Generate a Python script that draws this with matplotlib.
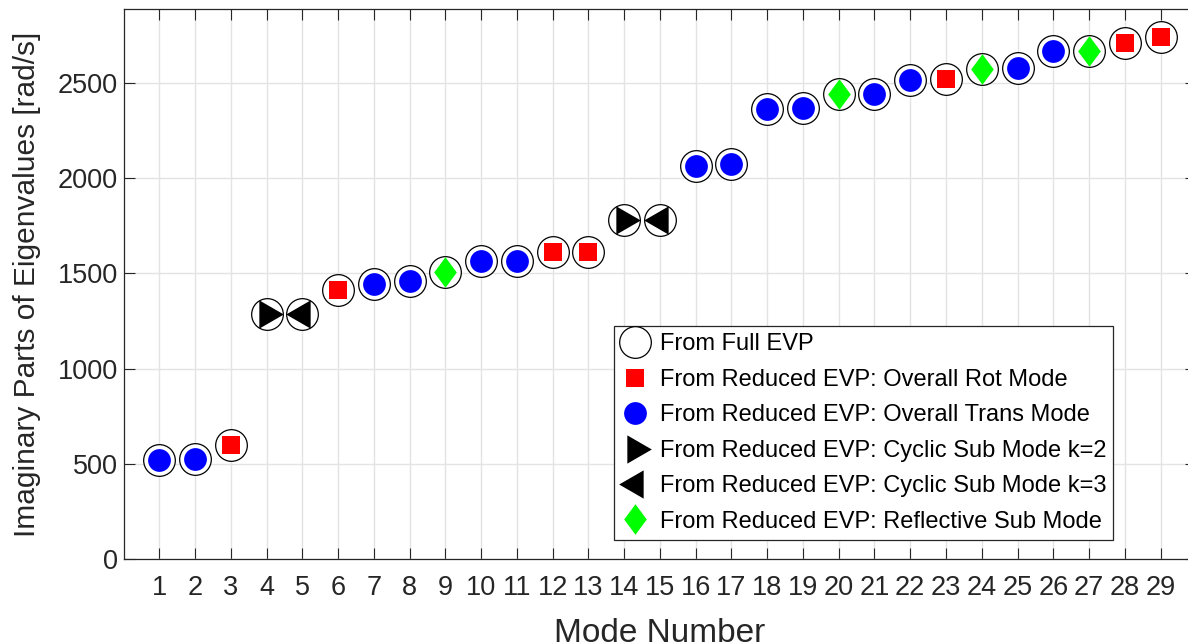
import numpy as np
import matplotlib
matplotlib.use("Agg")
import matplotlib.pyplot as plt
from matplotlib.lines import Line2D

plt.rcParams['font.family'] = ['Liberation Sans', 'DejaVu Sans']

# data
modes = list(range(1, 30))
full_evp = [519, 524, 597, 1287, 1287, 1414, 1444, 1462, 1505, 1566, 1563,
            1610, 1615, 1780, 1780, 2065, 2077, 2362, 2367, 2441, 2444,
            2519, 2524, 2576, 2580, 2668, 2670, 2710, 2745]

rot_modes = [3, 6, 12, 13, 23, 28, 29]
trans_modes = [1, 2, 7, 8, 10, 11, 16, 17, 18, 19, 21, 22, 25, 26]
k2_modes = [4, 14]
k3_modes = [5, 15]
refl_modes = [9, 20, 24, 27]

labels = ['From Full EVP',
          'From Reduced EVP: Overall Rot Mode',
          'From Reduced EVP: Overall Trans Mode',
          'From Reduced EVP: Cyclic Sub Mode k=2',
          'From Reduced EVP: Cyclic Sub Mode k=3',
          'From Reduced EVP: Reflective Sub Mode']

# marker shapes (MATLAB-like)
tri_right = [(-0.2887, 0.5), (0.5774, 0.0), (-0.2887, -0.5), (-0.2887, 0.5)]
tri_left = [(0.2887, 0.5), (-0.5774, 0.0), (0.2887, -0.5), (0.2887, 0.5)]
diamond = [(0, 0.5), (0.37, 0), (0, -0.5), (-0.37, 0), (0, 0.5)]


def pick(sel):
    return [m for m in sel], [full_evp[m - 1] for m in sel]


fig = plt.figure(figsize=(11.88, 6.43), dpi=100)
ax = fig.add_axes([0.104, 0.131, 0.903, 0.855])

styles = [
    dict(marker='o', ms=22.8, mfc='white', mec='black', mew=0.9),
    dict(marker='s', ms=12.6, mfc='red', mec='red', mew=0),
    dict(marker='o', ms=16.4, mfc='blue', mec='blue', mew=0),
    dict(marker=tri_right, ms=23.5, mfc='black', mec='black', mew=0),
    dict(marker=tri_left, ms=23.5, mfc='black', mec='black', mew=0),
    dict(marker=diamond, ms=22.0, mfc='#00ff00', mec='#00ff00', mew=0),
]

ax.plot(modes, full_evp, ls='none', zorder=3, **styles[0])
for sel, st in zip([rot_modes, trans_modes, k2_modes, k3_modes, refl_modes], styles[1:]):
    x, y = pick(sel)
    ax.plot(x, y, ls='none', zorder=4, **st)

ax.set_xlim(0, 30)
ax.set_ylim(0, 2890)
ax.set_xticks(modes)
ax.set_yticks([0, 500, 1000, 1500, 2000, 2500])
ax.grid(True, color='#e3e3e3', lw=1.0)
ax.set_axisbelow(True)
ax.tick_params(direction='in', length=8, width=0.8, color='#262626',
               labelsize=19.5, labelcolor='#262626', top=True, right=True)
ax.tick_params(axis='x', pad=12)
ax.tick_params(axis='y', pad=4)
for sp in ax.spines.values():
    sp.set_color('#262626')
    sp.set_linewidth(0.9)

# the x label sits partly below the figure edge, as in the original
ax.set_xlabel('Mode Number', fontsize=24, color='#262626', labelpad=12)
ax.set_ylabel('Imaginary Parts of Eigenvalues [rad/s]', fontsize=21.5,
              color='#262626', labelpad=12)

handles = [Line2D([], [], ls='none', **st) for st in styles]
leg = ax.legend(handles, labels, loc='lower right',
                bbox_to_anchor=(0.9226, 0.0345), borderaxespad=0,
                fontsize=17, handlelength=1.2, handletextpad=0.45,
                labelspacing=0.57, borderpad=0.3, fancybox=False,
                framealpha=1, edgecolor='#262626')
leg.get_frame().set_linewidth(0.9)

fig.savefig('out.png', dpi=100)
